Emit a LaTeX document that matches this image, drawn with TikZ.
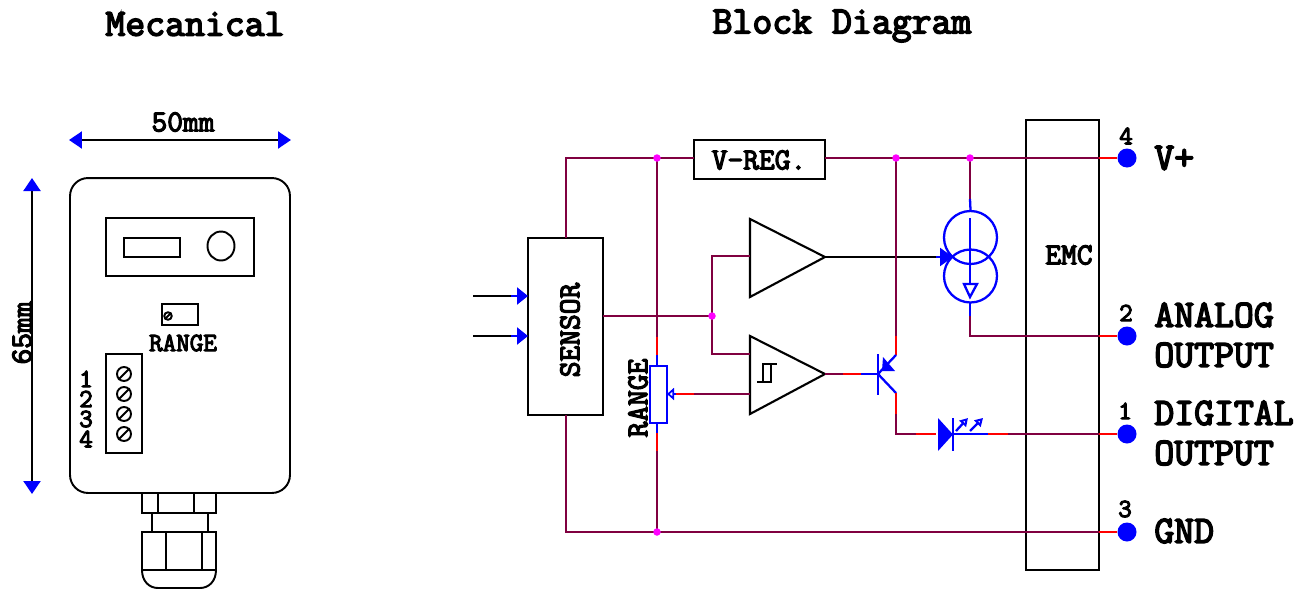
\documentclass[tikz,border=0pt]{standalone}
\usepackage{fontspec}
\setmonofont{Latin Modern Mono}[FakeBold=4]
\usetikzlibrary{arrows.meta,shapes.geometric}
\definecolor{wirecol}{RGB}{128,0,64}
\definecolor{dotcol}{RGB}{255,0,255}
\tikzset{
  box/.style={draw,line width=1.2pt,inner sep=0pt},
  wire/.style={wirecol,line width=1.3pt},
  wirered/.style={red,line width=1.3pt},
  comp/.style={blue,line width=1.3pt},
  blk/.style={black,line width=1.2pt},
  mech/.style={black,line width=1.1pt},
  dimarrow/.style={{Triangle[blue,length=0.26cm,width=0.34cm]}-{Triangle[blue,length=0.26cm,width=0.34cm]},blk},
  junction/.style={circle,fill=dotcol,inner sep=0pt,minimum size=0.15cm},
  terminal/.style={circle,fill=blue,inner sep=0pt,minimum size=0.38cm},
  screw/.style={circle,draw,line width=1.1pt,inner sep=0pt,minimum size=0.28cm},
  title/.style={font=\ttfamily\fontsize{22}{23}\selectfont},
  pinlabel/.style={font=\ttfamily\fontsize{22}{23}\selectfont,anchor=west,inner sep=0pt},
  midlabel/.style={font=\ttfamily\fontsize{17.4}{18}\selectfont},
  smalllabel/.style={font=\ttfamily\fontsize{15}{16}\selectfont}
}
\begin{document}
\begin{tikzpicture}[x=0.02cm,y=-0.02cm]
  \useasboundingbox (0,0) rectangle (1306,589);

  % Titles
  \node[title] (mectitle) at (195,24) {Mecanical};
  \node[title] (blocktitle) at (842,26) {Block Diagram};

  % Enclosure
  \node[box,mech,rounded corners=0.36cm,minimum width=4.4cm,minimum height=6.3cm] (case) at (180,335.5) {};
  \node[box,mech,minimum width=2.96cm,minimum height=1.16cm] (display) at (180,247) {};
  \node[box,mech,minimum width=1.12cm,minimum height=0.38cm] (window) at (152,247.5) {};
  \node[draw,mech,ellipse,inner sep=0pt,minimum width=0.54cm,minimum height=0.58cm] (knob) at (221,246) {};

  % Range trimmer
  \node[box,mech,minimum width=0.72cm,minimum height=0.42cm] (trim) at (180,314.5) {};
  \node[screw,minimum size=0.15cm] (trimscrew) at (168,316) {};
  \draw[mech] (trimscrew.225) -- (trimscrew.45);
  \node[smalllabel] (rangelabel) at (183,343) {RANGE};

  % Terminal block
  \node[box,mech,minimum width=0.72cm,minimum height=1.98cm] (block) at (124,403.5) {};
  \foreach \n/\y/\p in {1/374/379,2/394/399,3/414/419,4/434/439}{
    \node[screw] (screw\n) at (124,\y) {};
    \draw[mech] (screw\n.225) -- (screw\n.45);
    \node[smalllabel,inner sep=0pt] (num\n) at (86,\p) {\n};
  }

  % Cable gland
  \draw[mech] (142,493) -- ++(0,20) -- ++(74,0) -- ++(0,-20);
  \draw[mech] (158,493) -- ++(0,20);
  \draw[mech] (194,493) -- ++(0,20);
  \draw[mech] (152,513) -- ++(0,19);
  \draw[mech] (208,513) -- ++(0,19);
  \draw[mech] (142,532) rectangle (216,570);
  \draw[mech] (166,532) -- ++(0,38);
  \draw[mech] (202,532) -- ++(0,38);
  \draw[mech] (142,570) .. controls (142,581) and (149,588) .. (158,588) -- (200,588)
    .. controls (209,588) and (216,581) .. (216,570);

  % Dimensions
  \coordinate (widthL) at (69,140);
  \coordinate (widthR) at (291,140);
  \coordinate (heightT) at (32,178);
  \coordinate (heightB) at (32,494);
  \draw[dimarrow] (widthL) -- (widthR);
  \draw[dimarrow] (heightT) -- (heightB);
  \node[midlabel] (widthlabel) at (183,122) {50mm};
  \node[midlabel,rotate=90] (heightlabel) at (22,333) {65mm};

  % Blocks
  \node[box,minimum width=1.5cm,minimum height=3.54cm] (sensor) at (565.5,326.5) {};
  \node[midlabel,rotate=90] (sensorlabel) at (570,330) {SENSOR};
  \node[box,minimum width=2.62cm,minimum height=0.78cm] (vreg) at (759.5,159.5) {};
  \node[midlabel] (vreglabel) at (759,160) {V-REG.};
  \node[box,minimum width=1.46cm,minimum height=9cm] (emc) at (1062.5,345) {};
  \node[midlabel] (emclabel) at (1069,255) {EMC};

  % Inputs
  \coordinate (inA) at (473,296);
  \coordinate (inB) at (473,336);
  \foreach \c/\y in {inA/296,inB/336}{
    \draw[blk] (\c) -- (511,\y);
    \draw[comp,-{Triangle[length=0.22cm,width=0.34cm]}] (511,\y) -- (528,\y);
  }

  % Amplifiers
  \coordinate (ampA) at (825,257);
  \coordinate (ampB) at (825,374);
  \draw[blk] (750,219) -- (ampA) -- (750,297) -- cycle;
  \draw[blk] (750,336) -- (ampB) -- (750,414) -- cycle;
  \draw[blk,line width=0.9pt] (757,382) -- (772,382);
  \draw[blk,line width=0.9pt] (763,382) -- (763,364) -- (777,364);
  \draw[blk,line width=0.9pt] (771,382) -- (771,364);

  % Terminals
  \node[terminal] (pinV) at (1127,158) {};
  \node[terminal] (pinA) at (1127,336) {};
  \node[terminal] (pinD) at (1127,434) {};
  \node[terminal] (pinG) at (1127,532) {};
  \foreach \n/\x/\y in {4/1126/136,2/1126/313,1/1125/411,3/1125/509}{
    \node[smalllabel] (pinnum\n) at (\x,\y) {\n};
  }
  \node[pinlabel] (lblV) at (1154,158) {V+};
  \node[pinlabel] (lblA) at (1154,315) {ANALOG};
  \node[pinlabel] (lblAo) at (1154,355) {OUTPUT};
  \node[pinlabel] (lblD) at (1154,413) {DIGITAL};
  \node[pinlabel] (lblDo) at (1154,453) {OUTPUT};
  \node[pinlabel] (lblG) at (1154,531) {GND};

  % Junctions
  \coordinate (railA) at (657,158);
  \coordinate (railB) at (896,158);
  \coordinate (railC) at (970,158);
  \coordinate (railG) at (657,532);
  \coordinate (sumJ) at (712,316);
  \coordinate (sensorT) at (566,238);
  \coordinate (sensorB) at (566,415);
  \coordinate (vregL) at (694,158);
  \coordinate (vregR) at (825,158);

  % Rails
  \draw[wire] (sensorT) |- (vregL);
  \draw[wire] (vregR) -- (1099,158);
  \draw[wirered] (1099,158) -- (pinV);
  \draw[wire] (sensorB) |- (1099,532);
  \draw[wirered] (1099,532) -- (pinG);

  % Sensor output
  \draw[wire] (603,316) -- (sumJ);
  \draw[wire] (750,256) -- (712,256) -- (712,354) -- (750,354);

  % Range pot
  \node[box,comp,minimum width=0.34cm,minimum height=1.14cm] (pot) at (658.5,394.5) {};
  \node[midlabel,rotate=90] (potlabel) at (638,398) {RANGE};
  \draw[wire] (railA) -- ++(0,179);
  \draw[wirered] (657,337) -- ++(0,18);
  \draw[comp] (657,355) -- (657,366);
  \draw[comp] (657,423) -- ++(0,10);
  \draw[wirered] (657,433) -- ++(0,18);
  \draw[wire] (657,451) -- (railG);
  \draw[wire] (750,394) -- ++(-56,0);
  \draw[wirered] (694,394) -- ++(-18,0);
  \draw[comp,-{Triangle[open,length=0.14cm,width=0.24cm]}] (676,394) -- (667,394);

  % Current source
  \node[draw,comp,circle,inner sep=0pt,minimum size=1.06cm] (csA) at (970.5,237.5) {};
  \node[draw,comp,circle,inner sep=0pt,minimum size=1.06cm] (csB) at (970.5,276) {};
  \draw[wire] (railC) -- ++(0,41);
  \draw[comp] (970,199) -- (csA.north);
  \draw[comp] (970,218) -- (970,284);
  \draw[comp] (964,284) -- (977,284) -- (970,297) -- cycle;
  \draw[comp] (970,303) -- ++(0,13);
  \draw[wire] (970,316) |- (1099,336);
  \draw[wirered] (1099,336) -- (pinA);
  \draw[blk] (ampA) -- (936,257);
  \draw[comp,-{Triangle[length=0.26cm,width=0.36cm]}] (936,257) -- (953,257);

  % Transistor
  \coordinate (base) at (878,374);
  \draw[wire] (railB) -- ++(0,178);
  \draw[wirered] (896,336) -- ++(0,19);
  \draw[comp] (878,354) -- (878,395);
  \draw[comp] (896,355) -- (base);
  \fill[blue] (882,371) -- (883,357) -- (895,371) -- cycle;
  \draw[comp] (base) -- (896,393);
  \draw[wire] (ampB) -- ++(18,0);
  \draw[wirered] (843,374) -- ++(18,0);
  \draw[comp] (861,374) -- (base);

  % LED
  \draw[wirered] (896,393) -- ++(0,21);
  \draw[wire] (896,414) |- (916,434);
  \draw[wirered] (916,434) -- ++(20,0);
  \fill[blue] (938,418) -- (953,434.5) -- (938,451) -- cycle;
  \draw[comp] (953,418) -- ++(0,33);
  \draw[comp] (953,434) -- ++(35,0);
  \draw[wirered] (988,434) -- ++(20,0);
  \draw[wire] (1008,434) -- (1099,434);
  \draw[wirered] (1099,434) -- (pinD);
  \draw[comp,-{Triangle[open,length=0.16cm,width=0.18cm]}] (956,431) -- ++(12,-13);
  \draw[comp,-{Triangle[open,length=0.16cm,width=0.18cm]}] (970,431) -- ++(13,-13);

  % Dots
  \foreach \j in {railA,railB,railC,railG,sumJ}{
    \node[junction] at (\j) {};
  }
\end{tikzpicture}
\end{document}
